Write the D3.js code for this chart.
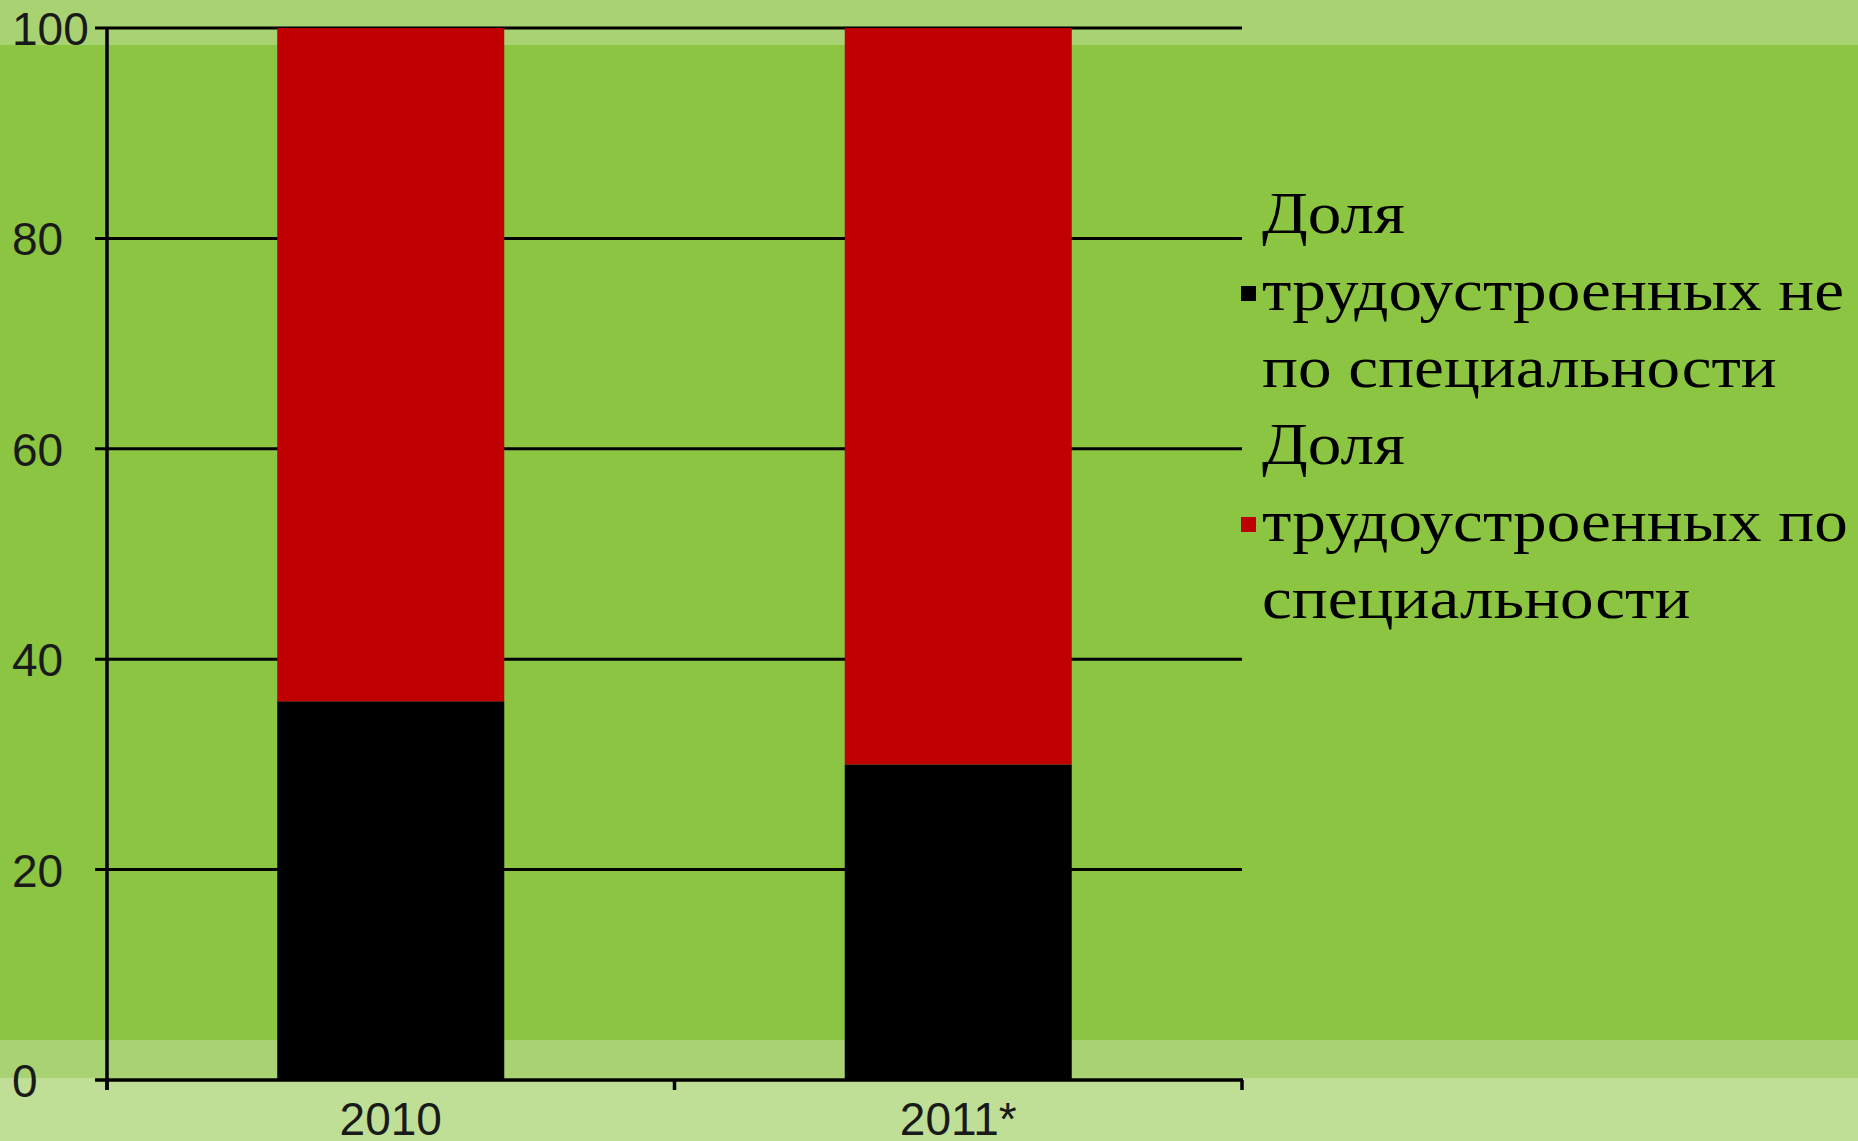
<!DOCTYPE html>
<html>
<head>
<meta charset="utf-8">
<script src="https://cdn.jsdelivr.net/npm/d3@7"></script>
<style>
  html, body { margin: 0; padding: 0; background: #bfdf97; }
  svg { display: block; }
</style>
</head>
<body>
<script>

// data
var years = ["2010", "2011*"];
var notBySpec = [36, 30];      // black
var bySpec = [64, 70];         // red
var yTicks = [0, 20, 40, 60, 80, 100];
var legendLines = [
  ["Доля", "трудоустроенных не", "по специальности"],
  ["Доля", "трудоустроенных по", "специальности"]
];
var seriesColors = ["#000000", "#c00000"];

var W = 1858, H = 1141;

var svg = d3.select("body").append("svg")
    .attr("width", W)
    .attr("height", H);

// background bands
svg.append("rect").attr("x", 0).attr("y", 0).attr("width", W).attr("height", H).attr("fill", "#bfdf97");
svg.append("rect").attr("x", 0).attr("y", 0).attr("width", W).attr("height", 1078).attr("fill", "#a9d373");
svg.append("rect").attr("x", 0).attr("y", 45).attr("width", W).attr("height", 995).attr("fill", "#8bc541");

var plotLeft = 107, plotRight = 1242, plotTop = 28, plotBottom = 1080;

var x = d3.scaleBand()
    .domain(years)
    .range([plotLeft, plotRight])
    .paddingInner(0.6)
    .paddingOuter(0.3);

var y = d3.scaleLinear()
    .domain([0, 100])
    .range([plotBottom, plotTop]);

// gridlines
svg.append("g")
  .selectAll("line")
  .data(yTicks.filter(function(d) { return d > 0; }))
  .join("line")
    .attr("x1", plotLeft - 12)
    .attr("x2", plotRight)
    .attr("y1", function(d) { return y(d); })
    .attr("y2", function(d) { return y(d); })
    .attr("stroke", "#000")
    .attr("stroke-width", 3);

// stacked bars
var stack = years.map(function(yr, i) {
  return [
    { year: yr, y0: 0, y1: notBySpec[i], c: seriesColors[0] },
    { year: yr, y0: notBySpec[i], y1: notBySpec[i] + bySpec[i], c: seriesColors[1] }
  ];
}).flat();

svg.append("g")
  .selectAll("rect")
  .data(stack)
  .join("rect")
    .attr("x", function(d) { return x(d.year); })
    .attr("width", x.bandwidth())
    .attr("y", function(d) { return y(d.y1); })
    .attr("height", function(d) { return y(d.y0) - y(d.y1); })
    .attr("fill", function(d) { return d.c; });

// y axis
svg.append("line")
    .attr("x1", plotLeft).attr("x2", plotLeft)
    .attr("y1", plotTop - 1).attr("y2", plotBottom + 10)
    .attr("stroke", "#000").attr("stroke-width", 3.5);

svg.append("g")
  .selectAll("text")
  .data(yTicks)
  .join("text")
    .attr("x", 12)
    .attr("y", function(d) { return y(d) + 17; })
    .attr("font-family", "'Liberation Sans', Arial, sans-serif")
    .attr("font-size", 46)
    .attr("fill", "#1a1a1a")
    .text(function(d) { return d; });

// x axis
svg.append("line")
    .attr("x1", plotLeft - 12).attr("x2", plotRight + 1)
    .attr("y1", plotBottom).attr("y2", plotBottom)
    .attr("stroke", "#000").attr("stroke-width", 3.5);

// ticks at category boundaries
var bounds = [plotLeft, (x(years[0]) + x.bandwidth() + x(years[1])) / 2, plotRight];

svg.append("g")
  .selectAll("line")
  .data(bounds)
  .join("line")
    .attr("x1", function(d) { return d; })
    .attr("x2", function(d) { return d; })
    .attr("y1", plotBottom)
    .attr("y2", plotBottom + 10)
    .attr("stroke", "#000")
    .attr("stroke-width", 3.5);

svg.append("g")
  .selectAll("text")
  .data(years)
  .join("text")
    .attr("x", function(d) { return x(d) + x.bandwidth() / 2; })
    .attr("y", 1135)
    .attr("text-anchor", "middle")
    .attr("font-family", "'Liberation Sans', Arial, sans-serif")
    .attr("font-size", 46)
    .attr("fill", "#1a1a1a")
    .text(function(d) { return d; });

// legend
var legendX = 1262, lineH = 77, firstBase = 233;

legendLines.forEach(function(lines, s) {
  var g = svg.append("g");
  var base = firstBase + s * 3 * lineH;

  g.append("rect")
      .attr("x", 1241)
      .attr("y", base + lineH - 24)
      .attr("width", 15)
      .attr("height", 15)
      .attr("fill", seriesColors[s]);

  g.append("text")
      .attr("transform", "translate(" + legendX + ",0) scale(1.12,1)")
      .attr("font-family", "'Liberation Serif', 'Times New Roman', serif")
      .attr("font-size", 60)
      .attr("fill", "#000")
    .selectAll("tspan")
    .data(lines)
    .join("tspan")
      .attr("x", 0)
      .attr("y", function(d, i) { return base + i * lineH; })
      .text(function(d) { return d; });
});

</script>
</body>
</html>
